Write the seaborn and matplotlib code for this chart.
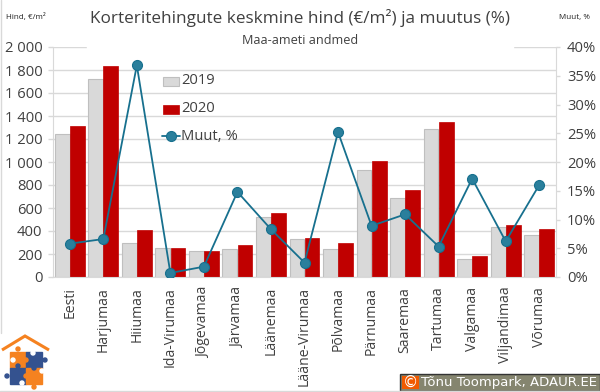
import pandas as pd
import matplotlib.pyplot as plt
import seaborn as sns
from matplotlib.patches import Rectangle, Polygon, Circle

counties = ['Eesti', 'Harjumaa', 'Hiiumaa', 'Ida-Virumaa', 'Jõgevamaa', 'Järvamaa',
            'Läänemaa', 'Lääne-Virumaa', 'Põlvamaa', 'Pärnumaa', 'Saaremaa',
            'Tartumaa', 'Valgamaa', 'Viljandimaa', 'Võrumaa']
price_2019 = [1240, 1720, 295, 250, 225, 240, 520, 330, 240, 930, 690, 1285, 155, 435, 365]
price_2020 = [1310, 1835, 405, 250, 225, 280, 560, 335, 295, 1005, 760, 1345, 185, 455, 420]
change_pct = [5.8, 6.6, 36.8, 0.7, 1.8, 14.8, 8.3, 2.5, 25.2, 8.9, 10.9, 5.3, 17.1, 6.2, 16.0]

y_ticks = [0, 200, 400, 600, 800, 1000, 1200, 1400, 1600, 1800, 2000]
y_labels = ['0', '200', '400', '600', '800', '1 000', '1 200', '1 400', '1 600', '1 800', '2 000']
pct_ticks = [0, 5, 10, 15, 20, 25, 30, 35, 40]

W, H = 600, 392
TXT = '#404040'
GRID = '#d9d9d9'
LINE = '#17708e'
MARK = '#2a7f9c'

sns.set_style('white')
plt.rcParams['font.family'] = ['Open Sans', 'DejaVu Sans']

df = pd.DataFrame({'county': counties * 2,
                   'year': ['2019'] * 15 + ['2020'] * 15,
                   'price': price_2019 + price_2020})

fig = plt.figure(figsize=(6, 3.92), dpi=100)
ax = fig.add_axes([53 / W, 1 - 277 / H, 503 / W, 230 / H])

sns.barplot(data=df, x='county', y='price', hue='year', ax=ax, width=0.9, gap=0.02,
            palette={'2019': '#d9d9d9', '2020': '#c00000'}, saturation=1, legend=False)
for bar in ax.containers[0]:
    bar.set_edgecolor('#bfbfbf')
    bar.set_linewidth(0.8)
for bar in ax.containers[1]:
    bar.set_edgecolor('#c00000')
    bar.set_linewidth(0.5)

ax.set_xlim(-0.5, 14.5)
ax.set_ylim(0, 2000)
ax.set_yticks(y_ticks, y_labels)
ax.set_xlabel('')
ax.set_ylabel('')
ax.set_axisbelow(True)
ax.grid(axis='y', color=GRID, lw=1)
ax.tick_params(axis='y', length=3.5, color=GRID, width=1, labelsize=10.6, labelcolor=TXT, pad=4)
ax.tick_params(axis='x', length=0, labelsize=10.1, labelcolor=TXT, pad=7)
plt.setp(ax.get_xticklabels(), rotation=90)
for s in ['top', 'right']:
    ax.spines[s].set_visible(False)
for s in ['left', 'bottom']:
    ax.spines[s].set_color(GRID)

ax2 = ax.twinx()
sns.lineplot(x=counties, y=change_pct, ax=ax2, sort=False, color=LINE, lw=1.3, marker='o',
             markersize=7.2, markerfacecolor=MARK, markeredgecolor=LINE, markeredgewidth=0.8)
ax2.set_ylim(0, 40)
ax2.set_yticks(pct_ticks, [f'{p}%' for p in pct_ticks])
ax2.tick_params(axis='y', length=3, color=GRID, width=1, labelsize=10.6, labelcolor=TXT, pad=5)
for s in ['top', 'left', 'bottom']:
    ax2.spines[s].set_visible(False)
ax2.spines['right'].set_color(GRID)
ax2.set_xlim(-0.5, 14.5)


def px(x, y):
    return x / W, 1 - y / H


# white title box hides the top gridline, as in the original
fig.add_artist(Rectangle(px(87, 49), 426 / W, 14 / H, color='white', zorder=1.5,
                         transform=fig.transFigure))
ax.patch.set_alpha(0)
fig.text(*px(300, 18), 'Korteritehingute keskmine hind (€/m²) ja muutus (%)', ha='center', va='center',
         fontsize=12.3, color=TXT)
fig.text(*px(300, 40), 'Maa-ameti andmed', ha='center', va='center', fontsize=9.1, color=TXT)
fig.text(*px(26, 17), 'Hind, €/m²', ha='center', va='center', fontsize=5.8, color='#222222')
fig.text(*px(574, 17), 'Muut, %', ha='center', va='center', fontsize=5.8, color='#222222')

# legend
fig.add_artist(Rectangle(px(163, 86), 16 / W, 9 / H, fc='#d9d9d9', ec='#bfbfbf', lw=0.8))
fig.add_artist(Rectangle(px(163, 114), 16 / W, 9 / H, fc='#c00000', ec='#c00000', lw=0.5))
fig.add_artist(plt.Line2D([162 / W, 180 / W], [1 - 136 / H] * 2, color=LINE, lw=1.3,
                          transform=fig.transFigure))
fig.add_artist(plt.Line2D([171 / W], [1 - 136 / H], color=LINE, marker='o', markersize=7.2,
                          markerfacecolor=MARK, markeredgecolor=LINE, markeredgewidth=0.8,
                          transform=fig.transFigure))
for label, yp in [('2019', 81), ('2020', 109), ('Muut, %', 136)]:
    fig.text(*px(181, yp), label, ha='left', va='center', fontsize=10.6, color=TXT)

# outer frame, left and bottom
fig.add_artist(plt.Line2D([0.5 / W, 0.5 / W], [1 - 333 / H, 1], color='#d9d9d9', lw=1))
fig.add_artist(plt.Line2D([0, 1], [1 - 390.5 / H] * 2, color='#d9d9d9', lw=1))

# logo
orange, blue = '#f58220', '#34528f'
logo = fig.add_axes([0, 1 - 390 / H, 52 / W, 57 / H])
logo.set_xlim(0, 52)
logo.set_ylim(57, 0)
logo.axis('off')
logo.add_patch(Polygon([(2, 17), (25, 3), (49, 17)], closed=False, fill=False, ec=orange, lw=2.2))
for x0, y0, c in [(10, 19, orange), (26, 19, blue), (10, 35, blue), (26, 35, orange)]:
    logo.add_patch(Rectangle((x0, y0), 16, 16, color=c))
for cx, cy, c in [(18, 16, orange), (45, 27, blue), (7, 43, blue), (34, 54, orange),
                  (18, 33, blue), (34, 35, blue), (26, 27, orange), (26, 43, orange)]:
    logo.add_patch(Circle((cx, cy), 2.0, color=c))
for cx, cy in [(13, 27), (33, 20), (22, 50), (42, 38)]:
    logo.add_patch(Circle((cx, cy), 2.0, color='white'))

# copyright box
fig.add_artist(Rectangle(px(399.5, 391), 200 / W, 17.5 / H, fc='#85856f', ec='#333333', lw=1))
fig.add_artist(Rectangle(px(402, 389), 17 / W, 13 / H, fc='#f05a00', ec='none'))
fig.text(*px(410.5, 382.5), '©', ha='center', va='center', fontsize=11, color='white', family='DejaVu Sans')
fig.text(*px(421, 382.5), 'Tõnu Toompark, ADAUR.EE', ha='left', va='center', fontsize=9.5, color='white',
         family='DejaVu Sans')

plt.savefig('out.png', dpi=100)
